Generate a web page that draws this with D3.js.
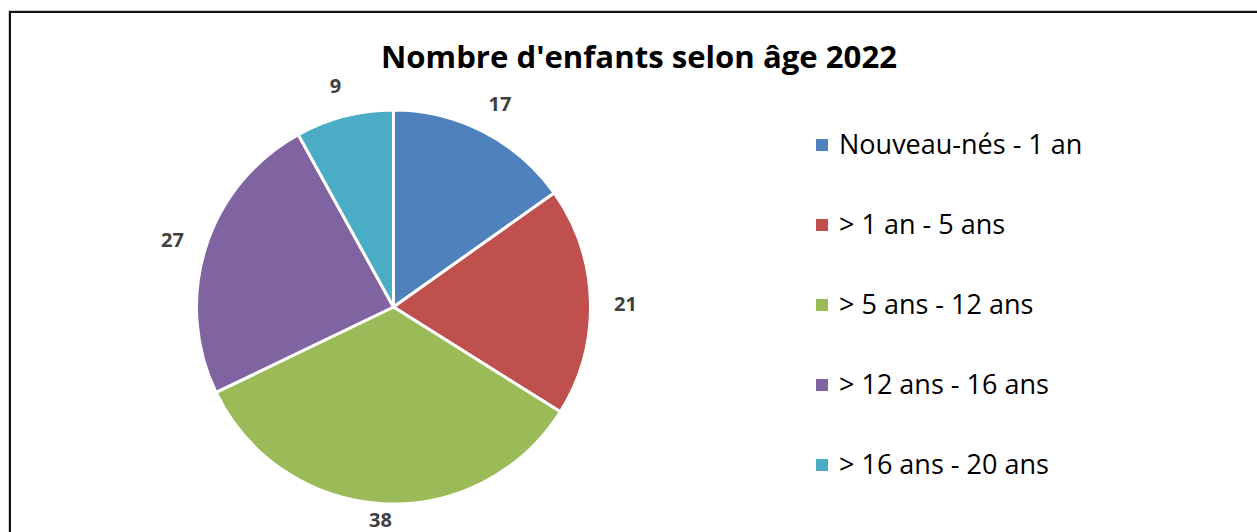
<!DOCTYPE html>
<html>
<head>
<meta charset="utf-8">
<script src="https://cdn.jsdelivr.net/npm/d3@7"></script>
<style>
  html, body { margin: 0; padding: 0; background: #fff; }
  svg { display: block; }
</style>
</head>
<body>
<script>
const categories = ["Nouveau-nés - 1 an", "> 1 an - 5 ans", "> 5 ans - 12 ans", "> 12 ans - 16 ans", "> 16 ans - 20 ans"];
const values = [17, 21, 38, 27, 9];
const colors = ["#4F81BD", "#C0504D", "#9BBB59", "#8064A2", "#4BACC6"];
const title = "Nombre d'enfants selon âge 2022";

const W = 1257, H = 532;
const svg = d3.select("body").append("svg").attr("width", W).attr("height", H);

// frame
svg.append("rect").attr("x", 8.5).attr("y", 10.5).attr("width", W + 20).attr("height", H + 20)
  .attr("fill", "none").attr("stroke", "#d0d0d0").attr("stroke-width", 1);
svg.append("rect").attr("x", 10).attr("y", 12).attr("width", W + 20).attr("height", H + 20)
  .attr("fill", "#fff").attr("stroke", "#111").attr("stroke-width", 2);

// title
svg.append("text").attr("x", 639).attr("y", 68).attr("text-anchor", "middle")
  .attr("font-family", "'Open Sans', sans-serif").attr("font-weight", "bold").attr("font-size", 31)
  .attr("textLength", 516).attr("lengthAdjust", "spacingAndGlyphs")
  .attr("fill", "#000").text(title);

// pie
const cx = 393.5, cy = 307, r = 197;
const pie = d3.pie().sort(null).value(d => d)(values);
const arc = d3.arc().innerRadius(0).outerRadius(r);
const g = svg.append("g").attr("transform", `translate(${cx},${cy})`);
g.selectAll("path").data(pie).join("path")
  .attr("d", arc).attr("fill", (d, i) => colors[i])
  .attr("stroke", "#fff").attr("stroke-width", 3).attr("stroke-linejoin", "round");

// labels
const labelR = 232;
g.selectAll("text.lbl").data(pie).join("text").attr("class", "lbl")
  .attr("x", d => Math.sin((d.startAngle + d.endAngle) / 2) * labelR)
  .attr("y", d => Math.min(-Math.cos((d.startAngle + d.endAngle) / 2) * labelR + 3, H - 13 - cy))
  .attr("text-anchor", "middle").attr("dominant-baseline", "central")
  .attr("font-family", "'Open Sans', sans-serif").attr("font-weight", "bold").attr("font-size", 20)
  .attr("fill", "#404040").text(d => d.data);

// legend
const ly = d3.scalePoint().domain(categories).range([143, 463]);
const leg = svg.append("g");
categories.forEach((c, i) => {
  leg.append("rect").attr("x", 816).attr("y", ly(c) - 4).attr("width", 12).attr("height", 12).attr("fill", colors[i]);
  leg.append("text").attr("x", 839).attr("y", ly(c)).attr("dominant-baseline", "central")
    .attr("font-family", "'Open Sans', sans-serif").attr("font-size", 27).attr("fill", "#000").text(c);
});
</script>
</body>
</html>
